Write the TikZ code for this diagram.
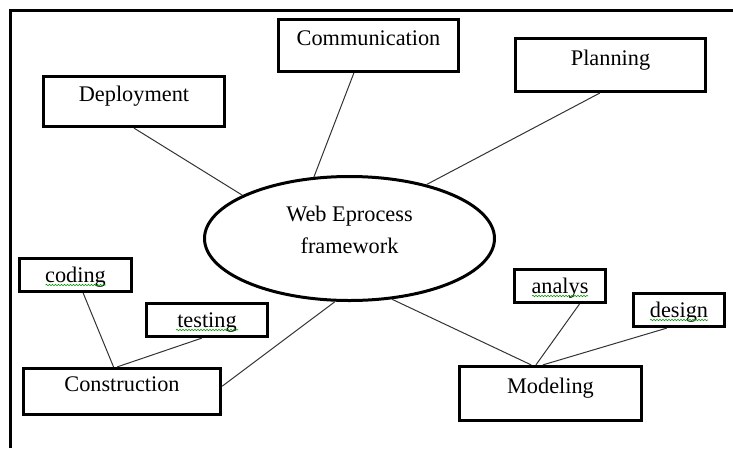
\documentclass[tikz,border=0pt]{standalone}
\usepackage{fontspec}
\setmainfont{Liberation Serif}
\usetikzlibrary{shapes.geometric,decorations.pathmorphing}

\begin{document}
\begin{tikzpicture}[x=1pt,y=-1pt,
        every node/.style={font=\fontsize{22.3}{32}\selectfont, inner sep=0pt},
        stage/.style={draw, line width=3.2pt, rectangle, text height=15pt, text depth=15pt},
        task/.style={draw, line width=3.2pt, rectangle, text height=15pt, text depth=1pt},
        hub/.style={draw, line width=3pt, ellipse, align=center},
        link/.style={black!80, line width=1pt},
        spell/.style={green!60!black, line width=0.6pt, decorate,
            decoration={snake, amplitude=0.7pt, segment length=3pt}}]
                \useasboundingbox (0,0) rectangle (733,448);
                \draw [line width=3pt] (10,448) -- (10,10) -- (733,10);

                \node [stage, minimum width=180pt, minimum height=52pt] (comm) at (368.5,45.5) {Communication};
                \node [stage, minimum width=190pt, minimum height=53pt] (plan) at (610.5,65) {Planning};
                \node [stage, minimum width=181pt, minimum height=50pt] (deploy) at (134,101.5) {Deployment};
                \node [hub, minimum width=290pt, minimum height=124pt, text depth=18pt] (hub) at (349.5,238.5) {Web Eprocess\\framework};
                \node [task, minimum width=112pt, minimum height=33pt] (coding) at (75.5,275) {coding};
                \node [task, minimum width=121pt, minimum height=33pt] (testing) at (207,320) {testing};
                \node [stage, minimum width=197pt, minimum height=46pt] (constr) at (122,391.5) {Construction};
                \node [task, minimum width=91pt, minimum height=33pt] (analys) at (560,286) {analys};
                \node [task, minimum width=91pt, minimum height=33pt] (design) at (679,310) {design};
                \node [stage, minimum width=182pt, minimum height=54pt] (model) at (550.5,393.5) {Modeling};

                \draw [link] (deploy.south) -- (hub.158);
                \draw [link] (comm.242) -- (hub.120);
                \draw [link] (plan.249) -- (hub.35);
                \draw [link] (constr.3) -- (hub.257);
                \draw [link] (hub.305) -- (model.124);
                \draw [link] (analys.317) -- (model.117);
                \draw [link] (design.236) -- (model.105);
                \draw [link] (coding.293) -- (constr.109);
                \draw [link] (testing.254) -- (constr.101);

                \draw [spell] ([xshift=-30pt,yshift=-3pt]coding.base) -- ([xshift=30pt,yshift=-3pt]coding.base);
                \draw [spell] ([xshift=-31pt,yshift=-3pt]testing.base) -- ([xshift=31pt,yshift=-3pt]testing.base);
                \draw [spell] ([xshift=-28pt,yshift=-3pt]analys.base) -- ([xshift=28pt,yshift=-3pt]analys.base);
                \draw [spell] ([xshift=-29pt,yshift=-3pt]design.base) -- ([xshift=29pt,yshift=-3pt]design.base);
            \end{tikzpicture}
\end{document}
